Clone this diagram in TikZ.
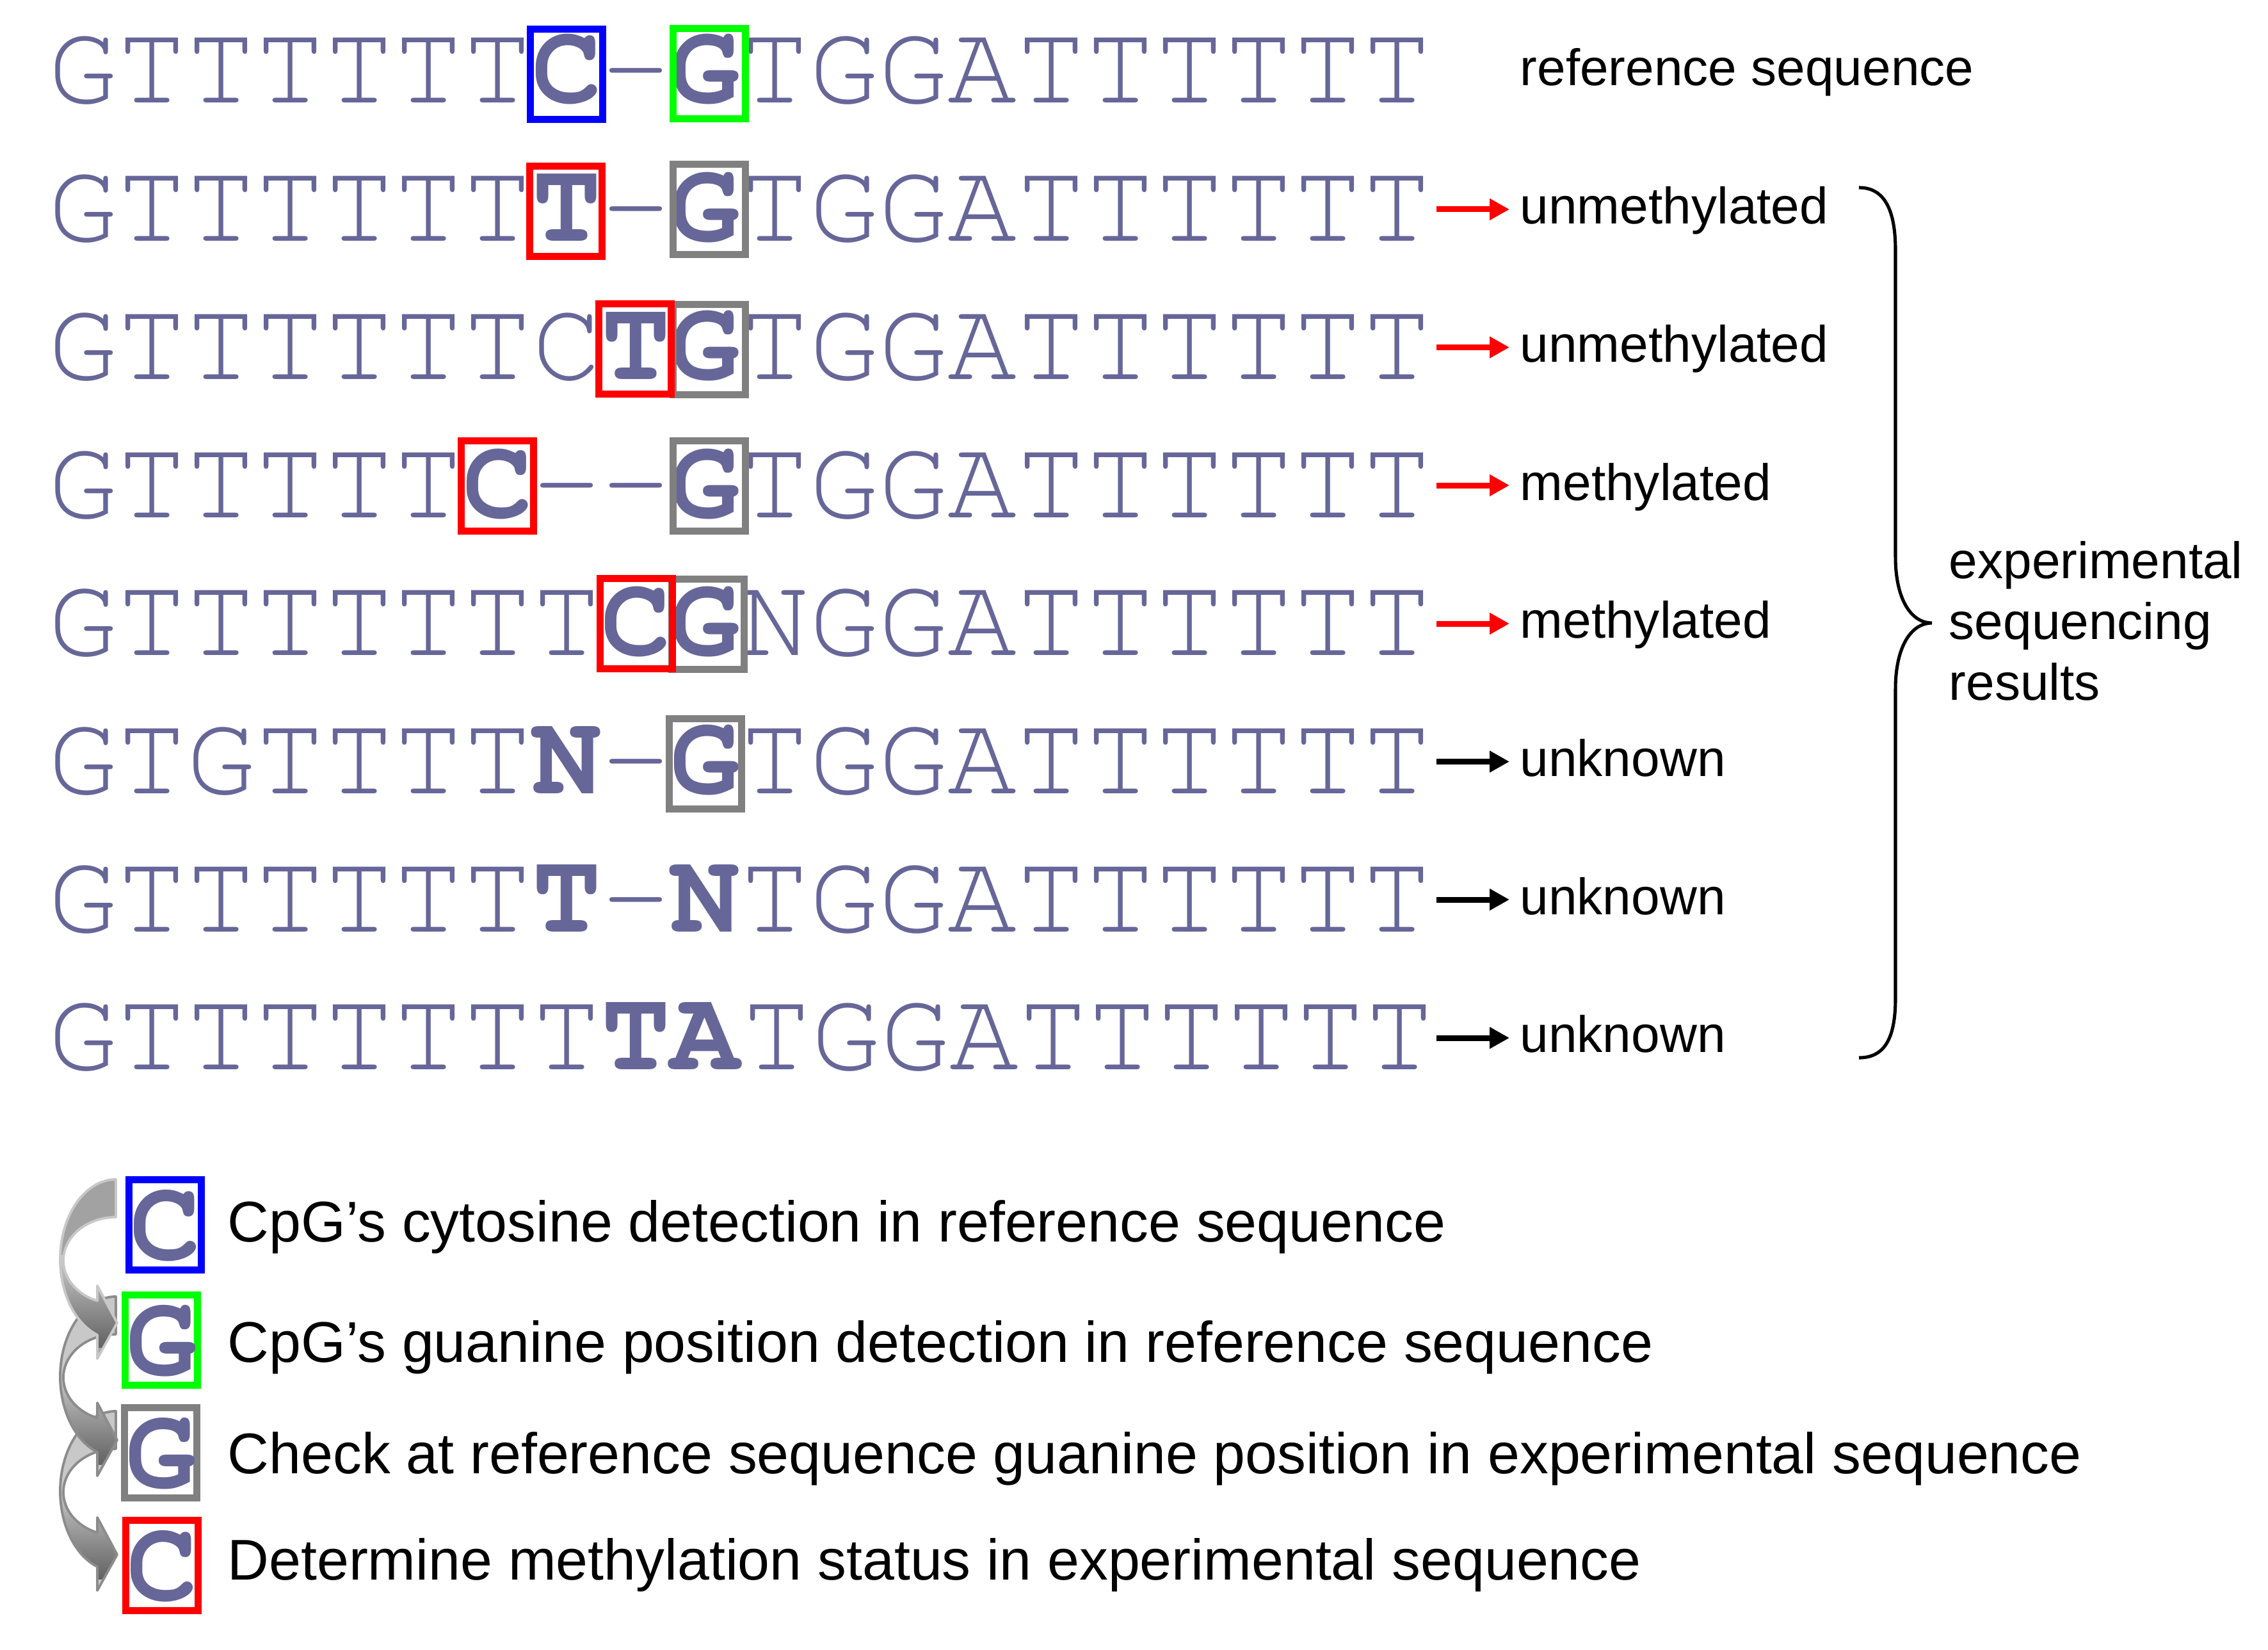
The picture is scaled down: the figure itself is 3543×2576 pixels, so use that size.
\documentclass[tikz,border=0pt]{standalone}
\usepackage{fontspec}
\setmainfont{Liberation Sans}
\newfontfamily\seqfont{texgyrecursor}[Extension=.otf, UprightFont=*-regular, BoldFont=*-bold]
\usetikzlibrary{arrows.meta}
\definecolor{seqcol}{RGB}{102,102,153}
\definecolor{boxblue}{RGB}{0,0,255}
\definecolor{boxgreen}{RGB}{0,255,0}
\definecolor{boxred}{RGB}{255,0,0}
\definecolor{boxgray}{RGB}{128,128,128}
\definecolor{arrlight}{RGB}{205,205,205}
\definecolor{arrdark}{RGB}{98,98,98}
\definecolor{arrupA}{RGB}{162,162,162}
\definecolor{arrupB}{RGB}{200,200,200}
\definecolor{arredgeA}{RGB}{200,200,200}
\definecolor{arredgeB}{RGB}{140,140,140}
\newcommand{\sqb}[1]{\textbf{#1}}
\begin{document}
\begin{tikzpicture}[x=0.01cm,y=-0.01cm,
  seq/.style={font=\seqfont\fontsize{51.2}{60}\selectfont, text=seqcol, inner sep=0pt, anchor=base west},
  legletter/.style={font=\seqfont\bfseries\fontsize{52}{60}\selectfont, text=seqcol, inner sep=0pt, anchor=base},
  lab/.style={font=\fontsize{22.8}{27}\selectfont, inner sep=0pt, anchor=base west},
  leg/.style={font=\fontsize{25.5}{30}\selectfont, inner sep=0pt, anchor=base west},
  cbox/.style={draw=#1, line width=3.13pt, minimum width=1.13cm, minimum height=1.41cm, inner sep=0pt},
  redarr/.style={draw=boxred, line width=2.56pt, -{Triangle[length=8.8pt,width=9.1pt]}},
  blkarr/.style={draw=black, line width=2.56pt, -{Triangle[length=8.8pt,width=9.1pt]}},
  lgshape/.style={insert path={(181,#1) arc[start angle=270,end angle=109.5,x radius=87,y radius=125]
     -- (152,#1+280) -- (183,#1+224) -- (152,#1+166) -- (152,#1+189.6)
     arc[start angle=110.7,end angle=270,x radius=82,y radius=67.5] -- cycle}}
]
\path[use as bounding box] (0,0) rectangle (3543,2576);

% ---------- sequences ----------
\node[seq] (s1) at (75,161)    {GTTTTTT\sqb{C}-\sqb{G}TGGATTTTTT};
\node[seq] (s2) at (75,376.7)  {GTTTTTT\sqb{T}-\sqb{G}TGGATTTTTT};
\node[seq] (s3) at (75,592.4)  {GTTTTTTC\sqb{T}\sqb{G}TGGATTTTTT};
\node[seq] (s4) at (75,808.1)  {GTTTTT\sqb{C}-{}-\sqb{G}TGGATTTTTT};
\node[seq] (s5) at (75,1023.8) {GTTTTTTT\sqb{C}\sqb{G}NGGATTTTTT};
\node[seq] (s6) at (75,1239.5) {GTGTTTT\sqb{N}-\sqb{G}TGGATTTTTT};
\node[seq] (s7) at (75,1455.2) {GTTTTTT\sqb{T}-\sqb{N}TGGATTTTTT};
\node[seq] (s8) at (75,1670.9) {GTTTTTTT\sqb{T}\sqb{A}TGGATTTTTT};

% ---------- boxes on sequences ----------
\node[cbox=boxgreen] (b1g) at (1108,115) {};
\node[cbox=boxblue]  (b1c) at (885,116) {};
\node[cbox=boxgray]  (b2g) at (1108,327) {};
\node[cbox=boxred]   (b2c) at (884,330) {};
\node[cbox=boxgray]  (b3g) at (1108,546) {};
\node[cbox=boxred]   (b3c) at (992,545) {};
\node[cbox=boxgray]  (b4g) at (1108,759) {};
\node[cbox=boxred]   (b4c) at (777,759) {};
\node[cbox=boxgray]  (b5g) at (1106,975) {};
\node[cbox=boxred]   (b5c) at (994,974) {};
\node[cbox=boxgray]  (b6g) at (1102,1193) {};

% ---------- labels ----------
\node[lab] (l1) at (2374,134)    {reference sequence};
\node[lab] (l2) at (2374,349.7)  {unmethylated};
\node[lab] (l3) at (2374,565.4)  {unmethylated};
\node[lab] (l4) at (2374,781.1)  {methylated};
\node[lab] (l5) at (2374,996.8)  {methylated};
\node[lab] (l6) at (2374,1212.5) {unknown};
\node[lab] (l7) at (2374,1428.2) {unknown};
\node[lab] (l8) at (2374,1643.9) {unknown};

% ---------- result arrows ----------
\foreach \r/\yy/\st in {2/327/redarr,3/542.5/redarr,4/758/redarr,5/974/redarr,6/1189.5/blkarr,7/1405/blkarr,8/1621/blkarr}{
  \coordinate (a\r s) at (2244,\yy);
  \coordinate (a\r e) at (2358,\yy);
  \draw[\st] (a\r s) -- (a\r e);
}

% ---------- brace ----------
\draw[line width=1.45pt] (2904,293) .. controls (2945,293) and (2961,330) .. (2961,391)
  -- (2961,870) .. controls (2961,935) and (2985,973) .. (3018,973)
  .. controls (2985,973) and (2961,1011) .. (2961,1076)
  -- (2961,1559) .. controls (2961,1620) and (2945,1652) .. (2904,1652);

\node[lab] (e1) at (3044,903)  {experimental};
\node[lab] (e2) at (3044,998)  {sequencing};
\node[lab] (e3) at (3044,1093) {results};

% ---------- legend curved arrows ----------
\foreach \yz/\up/\ed in {2204/arrupB/arredgeB,2025/arrupB/arredgeB,1842/arrupA/arredgeA}{
  \fill[fill=\up, lgshape=\yz];
  \begin{scope}
    \path[clip, lgshape=\yz];
    \shade[top color=arrlight, bottom color=arrdark] (80,\yz+118) rectangle (200,\yz+262);
  \end{scope}
  \draw[draw=\ed, line width=1.1pt, line join=round, lgshape=\yz];
}

% ---------- legend boxes ----------
\node[cbox=boxblue]  (k1) at (258,1913) {};
\node[cbox=boxgreen] (k2) at (252,2093) {};
\node[cbox=boxgray]  (k3) at (251,2269) {};
\node[cbox=boxred]   (k4) at (253,2445) {};
\node[legletter] (kl1) at (258,1967) {C};
\node[legletter] (kl2) at (252,2147) {G};
\node[legletter] (kl3) at (251,2323) {G};
\node[legletter] (kl4) at (253,2499) {C};

\node[leg] (t1) at (355,1939) {CpG’s cytosine detection in reference sequence};
\node[leg] (t2) at (355,2127) {CpG’s guanine position detection in reference sequence};
\node[leg] (t3) at (355,2301) {Check at reference sequence guanine position in experimental sequence};
\node[leg] (t4) at (355,2467) {Determine methylation status in experimental sequence};
\end{tikzpicture}
\end{document}
